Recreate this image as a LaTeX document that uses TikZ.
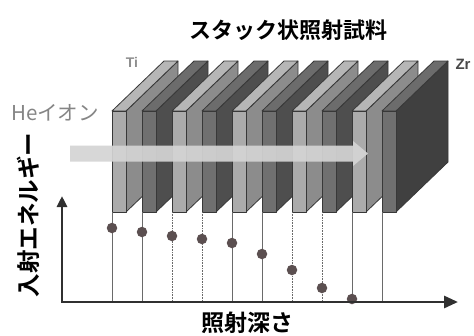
\documentclass[tikz,border=0pt]{standalone}
\usepackage{fontspec}
\newfontfamily\jpfont{Noto Sans CJK JP}
\newfontfamily\jpbold{Noto Sans CJK JP Bold}
\newfontfamily\latinbold{Liberation Sans Bold}
\usetikzlibrary{arrows.meta}

\definecolor{tifront}{HTML}{ABABAB}
\definecolor{tiright}{HTML}{8C8C8C}
\definecolor{titop}{HTML}{B6B6B6}
\definecolor{zrfront}{HTML}{707070}
\definecolor{zrright}{HTML}{4E4E4E}
\definecolor{zrtop}{HTML}{6C6C6C}
\definecolor{zrlast}{HTML}{404040}
\definecolor{edge}{HTML}{383838}
\definecolor{axiscol}{HTML}{303030}
\definecolor{guide}{HTML}{6A6A6A}
\definecolor{dotcol}{HTML}{5B4F50}
\definecolor{beam}{HTML}{D4D4D4}
\definecolor{hegray}{HTML}{858585}
\definecolor{tigray}{HTML}{8E8E8E}
\definecolor{zrgray}{HTML}{484848}

\tikzset{
  face/.style={draw=edge, line width=0.8pt, line join=round},
  guideline/.style={draw=guide, line width=0.8pt},
  dottedguide/.style={guideline, dash pattern=on 0.8pt off 0.8pt},
  datadot/.style={circle, fill=dotcol, inner sep=0pt, minimum size=10.5pt},
  axisline/.style={draw=axiscol, line width=2.8pt, {Triangle[length=11pt,width=10pt]}-{Triangle[length=14pt,width=12pt]}},
  label/.style={inner sep=0pt, text=black},
}

\begin{document}
\begin{tikzpicture}[x=1pt,y=-1pt]
\useasboundingbox (0,0) rectangle (474,335);
\fill[white] (0,0) rectangle (474,335);

% stacked plates, drawn left to right
\foreach \i in {0,...,9} {
  \pgfmathsetmacro\L{112+30*\i}
  \pgfmathtruncatemacro\parity{mod(\i,2)}
  \ifnum\parity=0
    \def\colF{tifront}\def\colR{tiright}\def\colT{titop}
  \else
    \def\colF{zrfront}\def\colR{zrright}\def\colT{zrtop}
  \fi
  \ifnum\i=9 \def\colR{zrlast}\fi
  \path[face, fill=\colR] (\L+14,111) -- (\L+66,61) -- (\L+66,162) -- (\L+14,212) -- cycle;
  \path[face, fill=\colT] (\L,111) -- (\L+52,61) -- (\L+66,61) -- (\L+14,111) -- cycle;
  \path[face, fill=\colF] (\L,111) rectangle (\L+14,212);
  \coordinate (b\i) at (\L,212);
  \coordinate (g\i) at (\L,302);
}

% ion beam
\fill[beam, opacity=0.93] (70,145.5) -- (353,145.5) -- (353,141) -- (368,153.5)
  -- (353,166) -- (353,161.5) -- (70,161.5) -- cycle;

% guide lines from each plate down to the depth axis
\foreach \i in {0,1,4,5,8,9} { \draw[guideline] (b\i) -- (g\i); }
\foreach \i in {2,3,6,7} { \draw[dottedguide] (b\i) -- (g\i); }

% incident energy at each plate
\foreach \i/\yd in {0/228,1/232,2/236,3/239,4/243,5/254,6/270,7/288,8/299} {
  \pgfmathsetmacro\L{112+30*\i}
  \node[datadot] (d\i) at (\L,\yd) {};
}

% axes
\coordinate (ytop) at (62,196);
\coordinate (orig) at (62,302);
\coordinate (xend) at (458,302);
\draw[axisline] (ytop) -- (orig) -- (xend);

% labels
\node[label, font=\jpbold\fontsize{22}{24}\selectfont] (title) at (288,30) {スタック状照射試料};
\node[label, font=\jpfont\fontsize{20.5}{22}\selectfont, text=hegray, anchor=west] (he) at (11,113) {Heイオン};
\node[label, font=\latinbold\fontsize{14}{15}\selectfont, text=tigray] (ti) at (132,62) {Ti};
\node[label, font=\latinbold\fontsize{15}{16}\selectfont, text=zrgray] (zr) at (463,64) {Zr};
\node[label, font=\jpbold\fontsize{23.5}{25}\selectfont, rotate=90] (ylab) at (28,215) {入射エネルギー};
\node[label, font=\jpbold\fontsize{23}{25}\selectfont] (xlab) at (247,323) {照射深さ};
\end{tikzpicture}
\end{document}
